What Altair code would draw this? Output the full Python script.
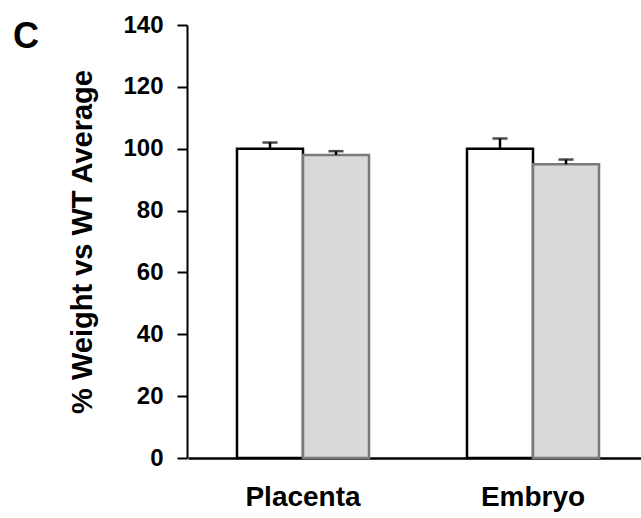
import altair as alt
import pandas as pd

groups = ["Placenta", "Placenta", "Embryo", "Embryo"]
genotypes = ["WT", "Mutant", "WT", "Mutant"]
values = [100.0, 98.0, 100.0, 95.0]
errors = [2.0, 1.2, 3.3, 1.5]
y_ticks = [0, 20, 40, 60, 80, 100, 120, 140]
panel_label = ["C"]

df = pd.DataFrame({"group": groups, "genotype": genotypes, "value": values, "err": errors})
df["upper"] = df["value"] + df["err"]

FONT = "Liberation Sans"

x_enc = alt.X("group:N", sort=["Placenta", "Embryo"],
              scale=alt.Scale(paddingInner=0, paddingOuter=0, range=[1, 461]),
              axis=alt.Axis(title=None, labelAngle=0, labelFontSize=28, labelFontWeight="bold",
                            labelFont=FONT, labelColor="black", tickSize=0, labelPadding=25,
                            domainColor="black", domainWidth=2.5))
xoff = alt.XOffset("genotype:N", sort=["WT", "Mutant"],
                   scale=alt.Scale(paddingInner=0, paddingOuter=0.742))
y_scale = alt.Scale(domain=[0, 140], nice=False)

bars = alt.Chart(df).mark_bar(strokeWidth=2.5).encode(
    x=x_enc,
    xOffset=xoff,
    y=alt.Y("value:Q", scale=y_scale,
            axis=alt.Axis(values=y_ticks, title="% Weight vs WT Average", grid=False,
                          titleFontSize=29, titleFont=FONT, titleFontWeight="bold", titleColor="black",
                          titlePadding=25, labelFontSize=24, labelFont=FONT, labelFontWeight="bold",
                          labelColor="black", labelPadding=14, tickSize=10, tickWidth=2,
                          tickColor="black", domainColor="black", domainWidth=2)),
    fill=alt.Fill("genotype:N", scale=alt.Scale(domain=["WT", "Mutant"], range=["#ffffff", "#d9d9d9"]), legend=None),
    stroke=alt.Stroke("genotype:N", scale=alt.Scale(domain=["WT", "Mutant"], range=["#000000", "#7a7a7a"]), legend=None),
)

rules = alt.Chart(df).mark_rule(color="black", strokeWidth=2.5).encode(
    x=alt.X("group:N", sort=["Placenta", "Embryo"]),
    xOffset=xoff,
    y=alt.Y("value:Q", scale=y_scale),
    y2="upper:Q",
)

caps = alt.Chart(df).mark_tick(color="black", thickness=2.5, size=15).encode(
    x=alt.X("group:N", sort=["Placenta", "Embryo"]),
    xOffset=xoff,
    y=alt.Y("upper:Q", scale=y_scale),
)

label = alt.Chart(pd.DataFrame({"t": panel_label})).mark_text(
    font=FONT, fontSize=36, fontWeight="bold", color="black", align="left", baseline="alphabetic"
).encode(x=alt.value(-174), y=alt.value(23), text="t:N")

chart = alt.layer(bars, rules, caps, label).properties(
    width=454,
    height=433,
    autosize=alt.AutoSizeParams(type="none"),
    padding={"left": 187, "top": 25, "right": 0, "bottom": 60},
).configure(background="white", view={"stroke": None})

chart.save("out.html", embed_options={"renderer": "svg", "actions": False})
